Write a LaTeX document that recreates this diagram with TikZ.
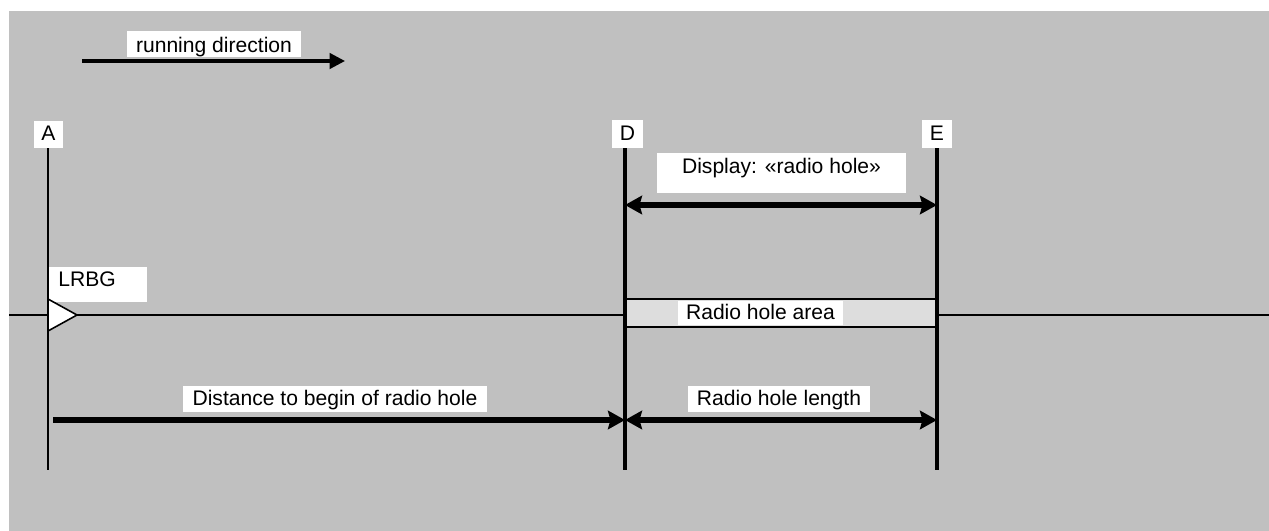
\documentclass[tikz,border=0pt]{standalone}
\usepackage{fontspec}
\setmainfont{Liberation Sans}
\usepackage{xcolor}
\usetikzlibrary{positioning,calc,arrows.meta}
\definecolor{bggray}{HTML}{C0C0C0}
\definecolor{areagray}{HTML}{DDDDDD}

\begin{document}
\begin{tikzpicture}[x=0.02cm,y=-0.02cm,
                label box/.style={fill=white,inner sep=0pt,font=\fontsize{12}{14}\selectfont},
                post line/.style={black,line width=2pt},
                dim tip/.style={Stealth[length=0.34cm,width=0.37cm,inset=0.05cm]},
                dim arrow/.style={black,line width=3pt,{Stealth[length=0.34cm,width=0.37cm,inset=0.05cm]}-{Stealth[length=0.34cm,width=0.37cm,inset=0.05cm]}}]
    \fill[white] (0,0) rectangle (1269,531);
    \useasboundingbox (0,0) rectangle (1269,531);
    \fill[bggray] (9,11) rectangle (1269,531);

%Track
    \coordinate (trackL) at (9,315);
    \coordinate (trackR) at (1269,315);
    \draw[line width=1.2pt] (trackL) -- (trackR);
    \draw[fill=areagray,line width=0.9pt] (625,299) rectangle (937,327);

%Nodes
    \node[label box,minimum width=174*0.02cm,text height=0.42cm,text depth=0.1cm] (run) at (214,44) {running direction};
    \node[label box,minimum width=29*0.02cm,text height=0.38cm,text depth=0.16cm] (A) at (48.5,134.5) {A};
    \node[label box,minimum width=31*0.02cm,text height=0.40cm,text depth=0.16cm] (D) at (627.5,134) {D};
    \node[label box,minimum width=30*0.02cm,text height=0.40cm,text depth=0.16cm] (E) at (937,134) {E};
    \node[label box,minimum width=249*0.02cm,text height=0.40cm,text depth=0.40cm] (disp) at (781.5,173) {Display: «radio hole»};
    \node[label box,anchor=north west,text width=80*0.02cm,align=left,inner xsep=9*0.02cm,text height=0.38cm,text depth=0.32cm] (lrbg) at (49,267) {LRBG};
    \node[label box,minimum width=165*0.02cm,text height=0.36cm,text depth=0.12cm] (area) at (760.5,313) {Radio hole area};
    \node[label box,minimum width=304*0.02cm,text height=0.38cm,text depth=0.14cm] (dist) at (335,399) {Distance to begin of radio hole};
    \node[label box,minimum width=182*0.02cm,text height=0.38cm,text depth=0.14cm] (len) at (779,399) {Radio hole length};

    \coordinate (Abot) at (48,470);
    \coordinate (Dbot) at (625,470);
    \coordinate (Ebot) at (937,470);
    \coordinate (runL) at (82,61);
    \coordinate (runR) at (345,61);
    \coordinate (distL) at (53,420);
    \coordinate (D1) at (625,205);
    \coordinate (E1) at (937,205);
    \coordinate (D2) at (625,420);
    \coordinate (E2) at (937,420);

%Posts
    \draw[line width=1.2pt] (A.south -| Abot) -- (Abot);
    \draw[post line] (D.south -| Dbot) -- (Dbot);
    \draw[post line] (E.south -| Ebot) -- (Ebot);

%LRBG marker
    \draw[fill=white,line width=0.9pt] (48,299) -- (77,315) -- (48,331) -- cycle;

%Arrows
    \draw[line width=1.9pt,-{Triangle[length=0.31cm,width=0.31cm]}] (runL) -- (runR);
    \draw[dim arrow] (D1) -- (E1);
    \draw[black,line width=3pt,-{Stealth[length=0.34cm,width=0.37cm,inset=0.05cm]}] (distL) -- (D2);
    \draw[dim arrow] (D2) -- (E2);
\end{tikzpicture}
\end{document}
